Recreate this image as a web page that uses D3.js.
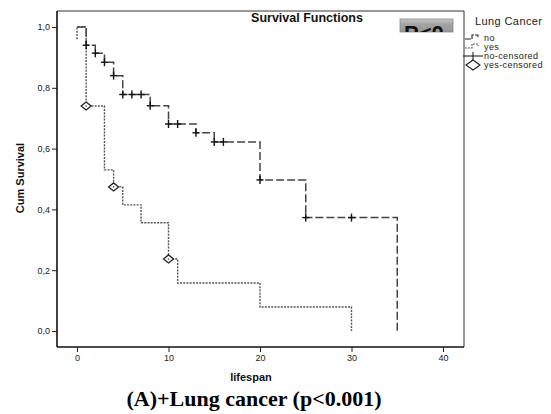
<!DOCTYPE html>
<html>
<head>
<meta charset="utf-8">
<script src="https://cdn.jsdelivr.net/npm/d3@7"></script>
<style>
  body { margin: 0; background: #fff; }
  svg { display: block; font-family: Arial, "Liberation Sans", sans-serif; }
</style>
</head>
<body>
<div id="chart"></div>
<script>
// Kaplan-Meier steps
const noTimes   = [0, 1, 2, 3, 4, 5, 8, 10, 13, 15, 20, 25, 35];
const noSurv    = [1, 0.94, 0.914, 0.884, 0.84, 0.778, 0.741, 0.681, 0.652, 0.622, 0.497, 0.373, 0];
const noCensor  = [1, 2, 3, 4, 5, 6, 7, 8, 10, 11, 13, 15, 16, 20, 25, 30];

const yesTimes  = [0, 0, 1, 3, 4, 5, 7, 10, 11, 20, 30];
const yesSurv   = [0.96, 1, 0.74, 0.53, 0.474, 0.415, 0.356, 0.237, 0.158, 0.079, 0];
const yesCensor = [1, 4, 10];

const xTicks = [0, 10, 20, 30, 40];
const yTicks = [0, 0.2, 0.4, 0.6, 0.8, 1.0];
const legendItems = ["no", "yes", "no-censored", "yes-censored"];

const W = 551, H = 414;
const frame = { left: 57, top: 11, right: 464, bottom: 347 };

const svg = d3.select("#chart").append("svg")
  .attr("width", W).attr("height", H);

const x = d3.scaleLinear().domain([0, 40]).range([77, 443]);
const y = d3.scaleLinear().domain([0, 1]).range([331, 27]);

// frame: heavier left/bottom like SPSS
svg.append("line").attr("x1", frame.left).attr("y1", frame.top).attr("x2", frame.right).attr("y2", frame.top)
  .attr("stroke", "#333").attr("stroke-width", 1);
svg.append("line").attr("x1", frame.right).attr("y1", frame.top).attr("x2", frame.right).attr("y2", frame.bottom)
  .attr("stroke", "#333").attr("stroke-width", 1);

const yAxis = svg.append("g")
  .attr("transform", `translate(${frame.left},0)`)
  .call(d3.axisLeft(y).tickValues(yTicks).tickSize(5).tickPadding(2)
    .tickFormat(d => d3.format(".1f")(d).replace(".", ",")));
const xAxis = svg.append("g")
  .attr("transform", `translate(0,${frame.bottom})`)
  .call(d3.axisBottom(x).tickValues(xTicks).tickSize(5).tickPadding(3));

[yAxis, xAxis].forEach(g => {
  g.select(".domain").remove();
  g.selectAll("line").attr("stroke", "#222");
  g.selectAll("text").attr("fill", "#222").style("font-size", "9px")
    .style("font-family", "Arial, 'Liberation Sans', sans-serif");
});

svg.append("line").attr("x1", frame.left).attr("y1", frame.top).attr("x2", frame.left).attr("y2", frame.bottom)
  .attr("stroke", "#111").attr("stroke-width", 1.6);
svg.append("line").attr("x1", frame.left).attr("y1", frame.bottom).attr("x2", frame.right).attr("y2", frame.bottom)
  .attr("stroke", "#111").attr("stroke-width", 1.6);

const step = d3.line().curve(d3.curveStepAfter).x(d => x(d[0])).y(d => y(d[1]));

svg.append("path")
  .attr("d", step(d3.zip(yesTimes, yesSurv)))
  .attr("fill", "none").attr("stroke", "#555").attr("stroke-width", 1.4)
  .attr("stroke-dasharray", "2,1.2");

svg.append("path")
  .attr("d", step(d3.zip(noTimes, noSurv)))
  .attr("fill", "none").attr("stroke", "#444").attr("stroke-width", 1.5)
  .attr("stroke-dasharray", "8,3");

function survAt(times, surv, t) {
  let v = surv[0];
  times.forEach((tt, i) => { if (tt <= t) v = surv[i]; });
  return v;
}

// censored marks
const plus = svg.append("g").attr("stroke", "#111").attr("stroke-width", 1.4);
noCensor.forEach(t => {
  const cx = x(t), cy = y(survAt(noTimes, noSurv, t));
  plus.append("line").attr("x1", cx - 3.5).attr("x2", cx + 3.5).attr("y1", cy).attr("y2", cy);
  plus.append("line").attr("x1", cx).attr("x2", cx).attr("y1", cy - 4).attr("y2", cy + 4);
});

const dia = svg.append("g");
yesCensor.forEach(t => {
  const cx = x(t), cy = y(survAt(yesTimes, yesSurv, t));
  dia.append("path")
    .attr("d", `M${cx - 5},${cy} L${cx},${cy - 4} L${cx + 5},${cy} L${cx},${cy + 4} Z`)
    .attr("fill", "#fff").attr("stroke", "#222").attr("stroke-width", 1.3);
  dia.append("circle").attr("cx", cx).attr("cy", cy).attr("r", 0.8).attr("fill", "#444");
});

// title + clipped p-value box
svg.append("text").attr("x", 307).attr("y", 22).attr("text-anchor", "middle")
  .style("font-size", "12.5px").style("font-weight", "bold").attr("fill", "#111")
  .text("Survival Functions");

const defs = svg.append("defs");
const grad = defs.append("linearGradient").attr("id", "boxg").attr("x1", 0).attr("y1", 0).attr("x2", 0).attr("y2", 1);
grad.append("stop").attr("offset", "0%").attr("stop-color", "#c8c8c8");
grad.append("stop").attr("offset", "40%").attr("stop-color", "#a4a4a4");
grad.append("stop").attr("offset", "100%").attr("stop-color", "#969696");
defs.append("clipPath").attr("id", "boxclip").append("rect")
  .attr("x", 400).attr("y", 19).attr("width", 53).attr("height", 13);

svg.append("rect").attr("x", 400).attr("y", 19).attr("width", 53).attr("height", 13)
  .attr("fill", "url(#boxg)").attr("stroke", "#888").attr("stroke-width", 0.8);
svg.append("text").attr("x", 404).attr("y", 41)
  .attr("clip-path", "url(#boxclip)")
  .style("font-size", "22px").style("font-weight", "bold").attr("fill", "#111")
  .text("P<0");

// legend
const lg = svg.append("g").attr("transform", "translate(465,0)");
lg.append("text").attr("x", 10).attr("y", 25).style("font-size", "11px").attr("fill", "#222")
  .attr("letter-spacing", "0.4px").text("Lung Cancer");
const rowY = [38, 47, 56, 65];
legendItems.forEach((name, i) => {
  const ry = rowY[i];
  if (i < 2) {
    lg.append("path")
      .attr("d", `M0,${ry + 1} H7 V${ry - 3} H13 V${ry - 1}`)
      .attr("fill", "none").attr("stroke", i === 0 ? "#222" : "#555")
      .attr("stroke-width", 1.1).attr("stroke-dasharray", i === 0 ? "6,1" : "2,1");
  } else if (i === 2) {
    lg.append("line").attr("x1", -2).attr("x2", 18).attr("y1", ry).attr("y2", ry).attr("stroke", "#222").attr("stroke-width", 1.1);
    lg.append("line").attr("x1", 8).attr("x2", 8).attr("y1", ry - 4).attr("y2", ry + 5).attr("stroke", "#222").attr("stroke-width", 1.1);
  } else {
    lg.append("path").attr("d", `M1,${ry} L8,${ry - 5} L15,${ry} L8,${ry + 5} Z`)
      .attr("fill", "#fff").attr("stroke", "#222").attr("stroke-width", 1.1);
  }
  lg.append("text").attr("x", 19).attr("y", ry + 3).style("font-size", "9px")
    .attr("letter-spacing", "0.4px").attr("fill", "#222").text(name);
});

// axis titles
svg.append("text").attr("transform", "translate(24,178) rotate(-90)").attr("text-anchor", "middle")
  .style("font-size", "11px").style("font-weight", "bold").attr("fill", "#111").text("Cum Survival");
svg.append("text").attr("x", 251).attr("y", 381).attr("text-anchor", "middle")
  .style("font-size", "11px").style("font-weight", "bold").attr("fill", "#111").text("lifespan");

// figure caption
svg.append("text").attr("x", 254).attr("y", 406).attr("text-anchor", "middle")
  .style("font-family", "'Liberation Serif', 'Times New Roman', serif")
  .style("font-size", "22px").style("font-weight", "bold").attr("fill", "#000")
  .text("(A)+Lung cancer (p<0.001)");
</script>
</body>
</html>
